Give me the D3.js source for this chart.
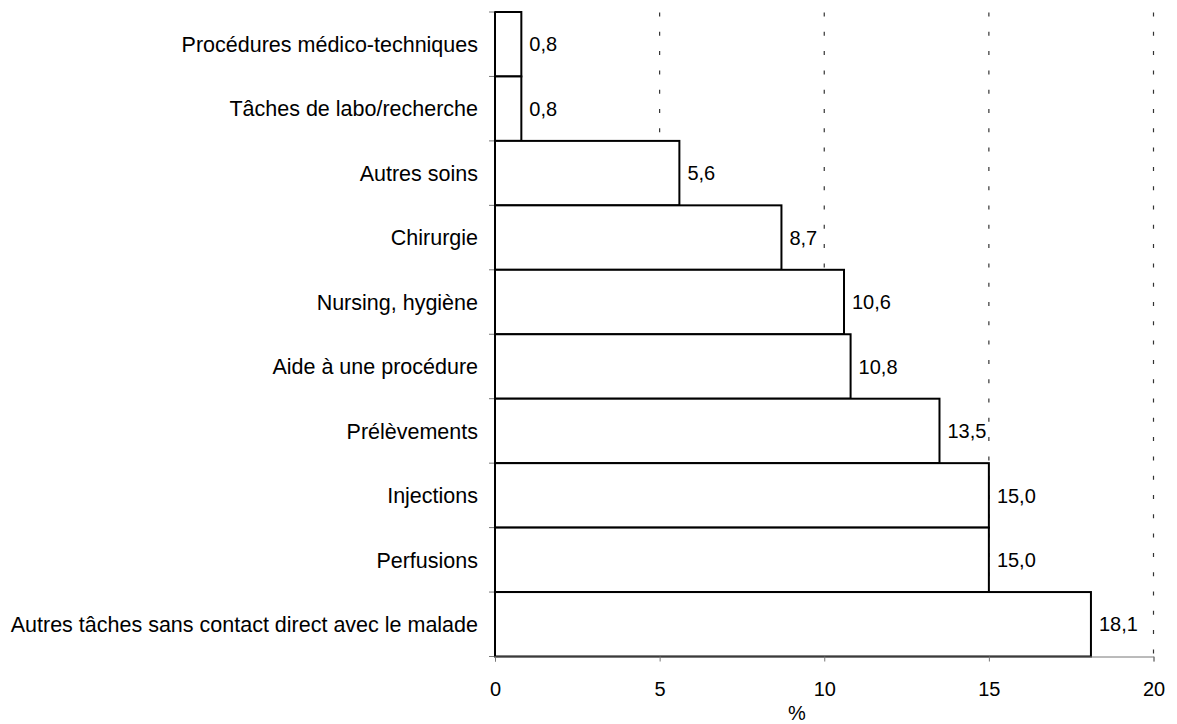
<!DOCTYPE html>
<html><head><meta charset="utf-8">
<script src="https://cdn.jsdelivr.net/npm/d3@7"></script>
<style>body{margin:0;background:#fff}svg{display:block}text{font-family:"Liberation Sans",Arial,sans-serif}</style>
</head><body>
<svg id="c" width="1177" height="724"></svg>
<script>
const categories = ["Procédures médico-techniques","Tâches de labo/recherche","Autres soins","Chirurgie","Nursing, hygiène","Aide à une procédure ","Prélèvements","Injections","Perfusions","Autres tâches sans contact direct avec le malade"];
const values = [0.8,0.8,5.6,8.7,10.6,10.8,13.5,15.0,15.0,18.1];
const labels = ["0,8","0,8","5,6","8,7","10,6","10,8","13,5","15,0","15,0","18,1"];
const xTicks = [0,5,10,15,20];
const xTitle = "%";

const FF = '"Liberation Sans",Arial,sans-serif';
const svg = d3.select("#c");
const x = d3.scaleLinear().domain([0,20]).range([495,1153.5]);
const y = d3.scaleBand().domain(categories).range([12,656.5]).padding(0);

// gridlines
svg.append("g").selectAll("line").data(xTicks.filter(d=>d>0)).join("line")
  .attr("x1",d=>x(d)).attr("x2",d=>x(d)).attr("y1",12.5).attr("y2",656.5)
  .attr("stroke","#333").attr("stroke-width",1.2).attr("stroke-dasharray","4,15.3");

// bars
svg.append("g").selectAll("rect").data(values).join("rect")
  .attr("x",x(0)).attr("y",(d,i)=>y(categories[i]))
  .attr("width",d=>x(d)-x(0)).attr("height",y.bandwidth())
  .attr("fill","#fff").attr("stroke","#000").attr("stroke-width",2);

// value labels
svg.append("g").selectAll("text").data(values).join("text")
  .attr("x",d=>x(d)+8).attr("y",(d,i)=>y(categories[i])+y.bandwidth()/2)
  .attr("dy","0.36em").attr("font-size",20).text((d,i)=>labels[i]);

// y axis
const ya = svg.append("g").attr("transform",`translate(${x(0)},0)`)
  .call(d3.axisLeft(y).tickSize(0).tickPadding(17));
ya.select(".domain").remove();
ya.selectAll("text").attr("font-size",21.5).attr("fill","#000").attr("font-family",FF).attr("dy","0.36em");
const bounds = categories.map(c=>y(c)).concat([y.range()[1]]);
svg.append("g").selectAll("line").data(bounds).join("line")
  .attr("x1",x(0)-6).attr("x2",x(0)).attr("y1",d=>d).attr("y2",d=>d).attr("stroke","#777");
svg.append("line").attr("x1",x(0)).attr("x2",x(0)).attr("y1",12).attr("y2",656.5).attr("stroke","#000").attr("stroke-width",2);

// x axis
const xa = svg.append("g").attr("transform","translate(0,656.5)")
  .call(d3.axisBottom(x).tickValues(xTicks).tickSize(5).tickPadding(20).tickFormat(d3.format("d")));
xa.select(".domain").attr("stroke","#777");
xa.selectAll(".tick line").attr("stroke","#777");
xa.selectAll("text").attr("font-size",20).attr("fill","#000").attr("font-family",FF);
svg.append("text").attr("x",797).attr("y",720).attr("text-anchor","middle").attr("font-size",20).text(xTitle);
</script>
</body></html>
